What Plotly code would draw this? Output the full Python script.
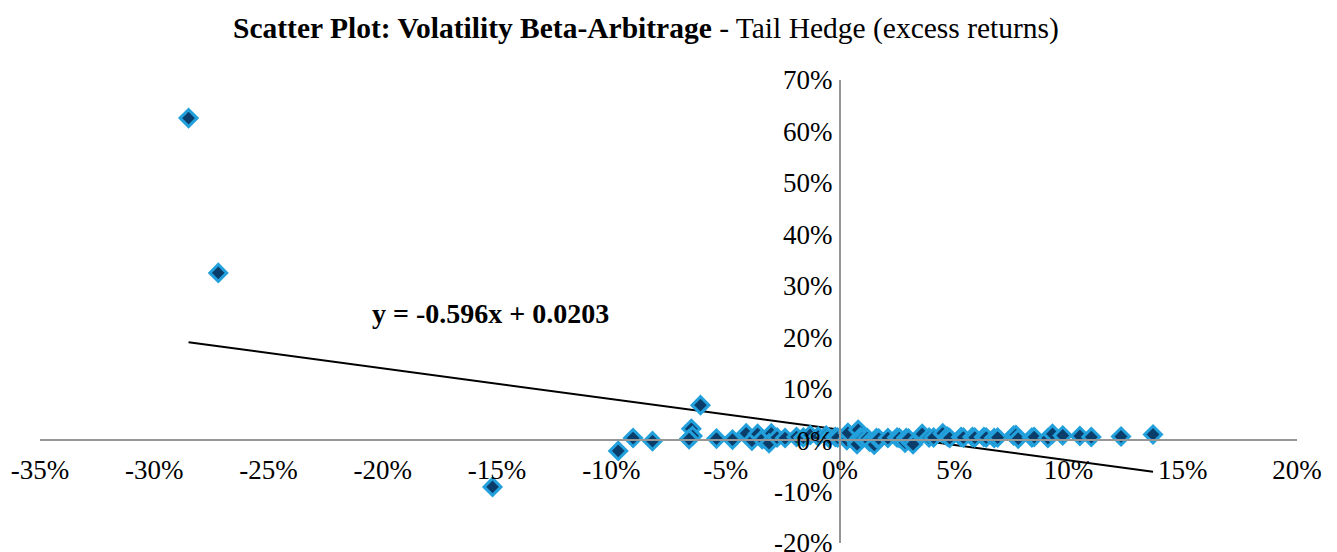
import plotly.graph_objects as go

# Data (values in %)
x_pct = [-28.5, -27.2, -15.2, -9.7, -9.05, -8.2, -6.5, -6.45, -6.6, -6.1,
         -5.4, -4.7, -4.1, -3.85, -3.6, -3.4, -3.0, -3.1, -2.75, -2.4,
         -1.9, -1.6, -1.3, -0.95, -0.6, -0.5, -0.2, -0.1, 0.3, 0.35,
         0.75, 0.8, 0.9, 1.0, 1.2, 1.3, 1.5, 1.6, 1.7, 2.1,
         2.5, 2.6, 2.85, 2.9, 3.0, 3.2, 3.6, 3.9, 4.1, 4.5,
         4.7, 4.8, 5.3, 5.4, 5.8, 5.9, 6.3, 6.4, 6.75, 6.9,
         7.6, 7.7, 7.8, 8.4, 8.5, 9.1, 9.3, 9.75, 10.5, 11.0,
         12.3, 13.7]
y_pct = [62.6, 32.5, -9.1, -2.1, 0.4, -0.2, 2.2, 0.8, 0.2, 6.8,
         0.3, 0.1, 1.3, -0.1, 1.2, 0.2, 1.3, -0.6, 0.5, 0.4,
         0.6, 0.5, 1.0, 0.7, 0.9, 0.5, 0.6, 0.5, 0.0, 1.4,
         -0.8, 2.0, 0.6, 0.4, 0.4, -0.3, -0.9, 0.4, 0.3, 0.4,
         0.5, 0.4, -0.5, 0.4, 0.3, -0.8, 1.2, 0.5, 0.5, 1.3,
         0.7, 0.4, 0.6, 0.5, 0.6, 0.5, 0.6, 0.5, 0.4, 0.5,
         0.9, 1.0, 0.3, 0.5, 0.6, 0.4, 1.2, 0.9, 0.8, 0.6,
         0.7, 1.1]

slope = -0.596
intercept = 0.0203

x_ticks = [-0.35, -0.30, -0.25, -0.20, -0.15, -0.10, -0.05, 0.0, 0.05, 0.10, 0.15, 0.20]
x_labels = ["-35%", "-30%", "-25%", "-20%", "-15%", "-10%", "-5%", "0%", "5%", "10%", "15%", "20%"]
y_ticks = [-0.20, -0.10, 0.0, 0.10, 0.20, 0.30, 0.40, 0.50, 0.60, 0.70]
y_labels = ["-20%", "-10%", "0%", "10%", "20%", "30%", "40%", "50%", "60%", "70%"]

title_bold = "Scatter Plot: Volatility Beta-Arbitrage"
title_rest = " - Tail Hedge (excess returns)"
eq_text = "y = -0.596x + 0.0203"

xs = [v / 100 for v in x_pct]
ys = [v / 100 for v in y_pct]

x_min, x_max = min(xs), max(xs)
trend_x = [x_min, x_max]
trend_y = [slope * v + intercept for v in trend_x]

FONT = "Liberation Serif"

fig = go.Figure()
fig.add_trace(go.Scatter(
    x=trend_x, y=trend_y, mode="lines",
    line=dict(color="black", width=2), showlegend=False, hoverinfo="skip"))
fig.add_trace(go.Scatter(
    x=xs, y=ys, mode="markers",
    marker=dict(symbol="diamond", size=13, color="#0B3D6B",
                line=dict(color="#22A0DC", width=3)),
    showlegend=False))

fig.add_annotation(
    x=-0.153, y=0.247, xref="x", yref="y", text="<b>" + eq_text + "</b>",
    showarrow=False, font=dict(family=FONT, size=28, color="black"))

fig.update_layout(
    width=1329, height=544,
    margin=dict(l=32, r=40, t=72, b=9, autoexpand=False),
    paper_bgcolor="white", plot_bgcolor="white",
    font=dict(family=FONT, size=27, color="black"),
    title=dict(text="<b>" + title_bold + "</b>" + title_rest,
               x=638 / 1329, xanchor="center", xref="container",
               y=1 - 20 / 544, yanchor="middle", yref="container",
               font=dict(family=FONT, size=29.5, color="black")),
    xaxis=dict(range=[-0.35, 0.20], tickvals=x_ticks, ticktext=x_labels,
               showgrid=False, zeroline=False, showline=True,
               linecolor="#969696", linewidth=2, automargin=False,
               anchor="free", position=0.2 / 0.9,
               ticks="", ticklabelstandoff=5, ticklabeloverflow="allow"),
    yaxis=dict(range=[-0.20, 0.70], tickvals=y_ticks, ticktext=y_labels,
               showgrid=False, zeroline=False, showline=True,
               linecolor="#969696", linewidth=2, automargin=False,
               anchor="free", position=0.35 / 0.55,
               ticks="", ticklabelstandoff=1, ticklabeloverflow="allow"),
)

fig.write_html("out.html")
